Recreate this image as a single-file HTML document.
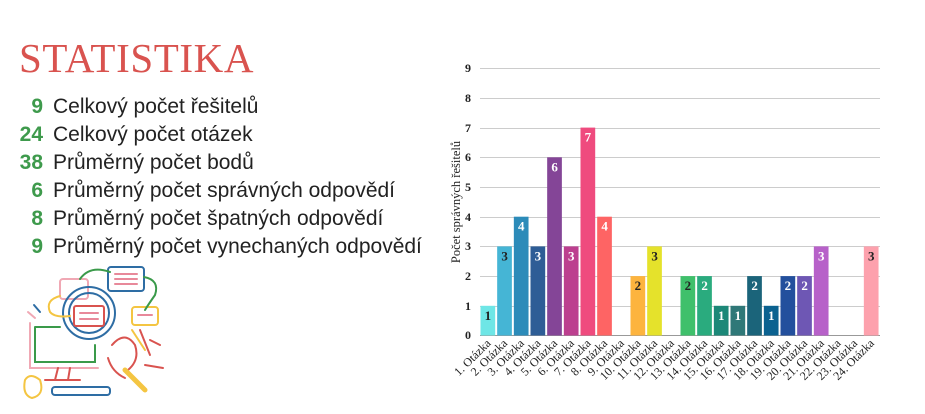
<!DOCTYPE html>
<html><head><meta charset="utf-8"><style>
body{margin:0;width:925px;height:414px;background:#fff;overflow:hidden;position:relative;font-family:"Liberation Sans",sans-serif}
.t{position:absolute;left:19px;top:34px;font-family:"Liberation Serif",serif;font-size:41px;color:#d9534f;letter-spacing:0.6px}
.r{position:absolute;left:0;font-size:21px;color:#222;white-space:nowrap}
.r b{display:inline-block;width:43px;text-align:right;color:#3e9a4c;margin-right:10px}
</style></head><body>
<div class="t">STATISTIKA</div>
<div class="r" style="top:95px"><b>9</b>Celkový počet řešitelů</div>
<div class="r" style="top:123px"><b>24</b>Celkový počet otázek</div>
<div class="r" style="top:151px"><b>38</b>Průměrný počet bodů</div>
<div class="r" style="top:179px"><b>6</b>Průměrný počet správných odpovědí</div>
<div class="r" style="top:207px"><b>8</b>Průměrný počet špatných odpovědí</div>
<div class="r" style="top:235px"><b>9</b>Průměrný počet vynechaných odpovědí</div>
<svg style="position:absolute;left:0;top:0" width="925" height="414" fill="none" stroke-width="2" stroke-linecap="round">
<rect x="108" y="267" width="36" height="24" rx="3" stroke="#2e6da4"/>
<line x1="115" y1="274" x2="137" y2="274" stroke="#e8899a"/><line x1="115" y1="279" x2="137" y2="279" stroke="#e8899a"/><line x1="115" y1="284" x2="137" y2="284" stroke="#e8899a"/>
<rect x="60" y="279" width="28" height="20" rx="3" stroke="#f0a8b4"/>
<rect x="132" y="307" width="26" height="18" rx="3" stroke="#f4c542"/>
<line x1="138" y1="315" x2="152" y2="315" stroke="#e8899a"/>
<path d="M80 279 Q90 265 110 272" stroke="#3a9a4a"/><path d="M144 277 Q160 280 155 295 Q148 305 145 310" stroke="#3a9a4a"/>
<circle cx="89" cy="313" r="26" stroke="#2e6da4"/><circle cx="89" cy="313" r="20" stroke="#2e6da4"/>
<rect x="74" y="306" width="30" height="20" rx="2" stroke="#d9534f"/>
<line x1="80" y1="313" x2="98" y2="313" stroke="#e8899a"/><line x1="80" y1="319" x2="98" y2="319" stroke="#e8899a"/>
<path d="M60 296 Q45 300 50 312 Q55 318 70 316" stroke="#f4c542"/>
<path d="M35 327 L60 327 M35 327 L35 362 L95 362 L95 345" stroke="#3a9a4a"/>
<path d="M30 323 L30 368 L98 368" stroke="#f0a8b4"/>
<path d="M45 380 L80 380 M58 368 L55 380 M70 368 L68 380" stroke="#d9534f"/>
<rect x="52" y="387" width="58" height="8" rx="3" stroke="#2e6da4"/>
<path d="M25 380 Q30 372 40 380 Q45 395 32 398 Q22 395 25 380" stroke="#f4c542"/>
<path d="M112 345 Q125 330 135 345 Q140 360 128 370" stroke="#d9534f"/><path d="M108 358 Q112 372 125 378" stroke="#d9534f"/>
<path d="M125 370 L145 390" stroke="#f4c542" stroke-width="5"/>
<path d="M140 330 L150 355 M150 340 L160 345 M145 365 L163 368" stroke="#d9534f"/>
<path d="M132 330 L145 350" stroke="#f4c542"/>
<line x1="34" y1="305" x2="40" y2="312" stroke="#2e6da4"/><line x1="28" y1="312" x2="35" y2="318" stroke="#f0a8b4"/>
</svg>
<svg style="position:absolute;left:0;top:0" width="925" height="414" font-family="Liberation Serif,serif">
<g stroke="#ccc" stroke-width="1">
<line x1="480" x2="880" y1="68.5" y2="68.5"/><line x1="480" x2="880" y1="98.5" y2="98.5"/><line x1="480" x2="880" y1="128.5" y2="128.5"/><line x1="480" x2="880" y1="157.5" y2="157.5"/><line x1="480" x2="880" y1="187.5" y2="187.5"/><line x1="480" x2="880" y1="217.5" y2="217.5"/><line x1="480" x2="880" y1="246.5" y2="246.5"/><line x1="480" x2="880" y1="276.5" y2="276.5"/><line x1="480" x2="880" y1="306.5" y2="306.5"/>
</g>
<line x1="480" x2="880" y1="335.5" y2="335.5" stroke="#999"/>
<g font-size="12" fill="#222" text-anchor="end" font-weight="bold">
<text x="471" y="72">9</text><text x="471" y="102">8</text><text x="471" y="132">7</text><text x="471" y="161">6</text><text x="471" y="191">5</text><text x="471" y="221">4</text><text x="471" y="250">3</text><text x="471" y="280">2</text><text x="471" y="310">1</text><text x="471" y="339">0</text>
</g>
<text transform="translate(460,202) rotate(-90)" text-anchor="middle" font-size="12.5" fill="#222">Počet správných řešitelů</text>
<g id="bars"></g>
<g id="labs" font-size="12" fill="#222" text-anchor="end"></g>
</svg>
<script>
var v=[1,3,4,3,6,3,7,4,0,2,3,0,2,2,1,1,2,1,2,2,3,0,0,3];
var c=["#6ee6e6","#45b5d5","#2c8bb9","#2e5d96","#844597","#bc3f8f","#ef4b7e","#fe6464","#ccc","#fdb43e","#e5e22b","#ccc","#3fc06b","#2aab7e","#1c8878","#2f7878","#1b647a","#0b6290","#23509d","#6e57b4","#b761c9","#ccc","#ccc","#fda1ad"];
var dark=[1,1,0,0,0,0,0,0,0,1,1,0,1,0,0,0,0,0,0,0,0,0,0,1];
var ns="http://www.w3.org/2000/svg",b=document.getElementById("bars"),l=document.getElementById("labs");
for(var i=0;i<24;i++){var x=480+i*16.667,h=v[i]*29.7,cx=x+7.4;
if(v[i]>0){var r=document.createElementNS(ns,"rect");r.setAttribute("x",x+0.5);r.setAttribute("y",335.5-h);r.setAttribute("width",14.7);r.setAttribute("height",h);r.setAttribute("fill",c[i]);b.appendChild(r);
var t=document.createElementNS(ns,"text");t.setAttribute("x",cx+0.5);t.setAttribute("y",335.5-h+14);t.setAttribute("text-anchor","middle");t.setAttribute("font-size","13");t.setAttribute("font-weight","bold");t.setAttribute("fill",dark[i]?"#222":"#fff");t.textContent=v[i];b.appendChild(t);}
var q=document.createElementNS(ns,"text");q.setAttribute("transform","translate("+(cx+4)+",344) rotate(-45)");q.textContent=(i+1)+". Otázka";l.appendChild(q);}
</script>
</body></html>
